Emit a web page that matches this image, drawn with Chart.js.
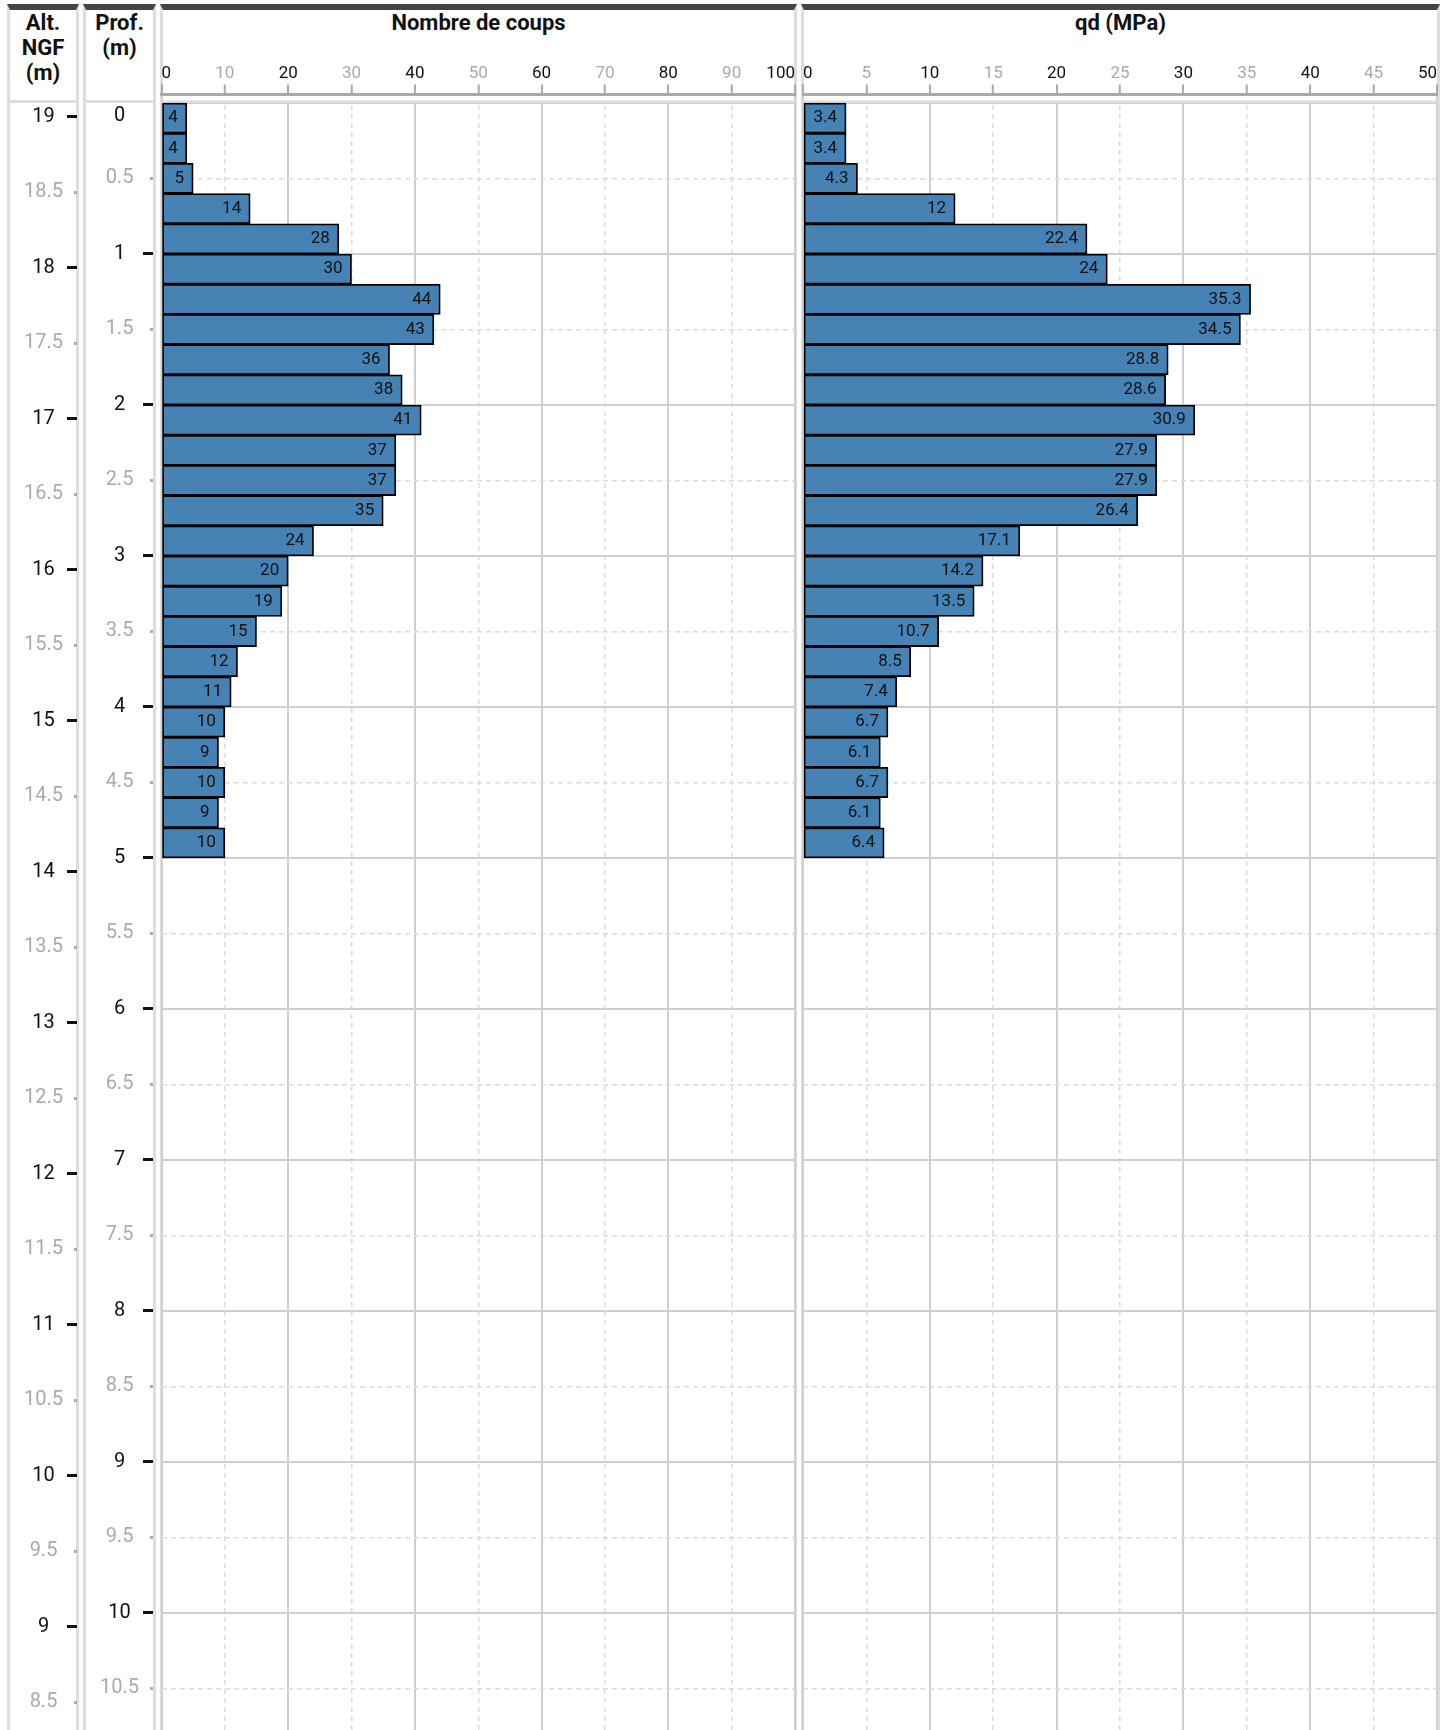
<!DOCTYPE html>
<html>
<head>
<meta charset="utf-8">
<title>Pénétromètre</title>
<script src="https://cdn.jsdelivr.net/npm/chart.js@4.4.1/dist/chart.umd.min.js"></script>
<style>
  html, body { margin: 0; padding: 0; background: #fff; overflow: hidden; }
  body { position: relative; width: 1447px; height: 1730px; font-family: Roboto, sans-serif; }
  .panel {
    position: absolute; top: 4px; height: 1740px; box-sizing: border-box;
    border-left: 3px solid #ddd; border-right: 3px solid #ddd; border-top: 6px solid #444;
  }
  .sep { position: absolute; left: 0; right: 0; top: 90px; height: 3px; background: #ddd; }
  .head {
    position: absolute; left: 0; right: 0; top: 0px; text-align: center;
    font-weight: 700; font-size: 22px; line-height: 25px; color: #111;
  }
  canvas { position: absolute; }
</style>
</head>
<body>
  <div class="panel" style="left:7px;width:72px"><div class="head">Alt.<br>NGF<br>(m)</div><div class="sep"></div></div>
  <div class="panel" style="left:83px;width:73px"><div class="head">Prof.<br>(m)</div><div class="sep"></div></div>
  <div class="panel" style="left:160px;width:637px"><div class="head">Nombre de coups</div></div>
  <div class="panel" style="left:801px;width:639px"><div class="head">qd (MPa)</div></div>

  <canvas id="alt" width="68" height="1627" style="left:10px;top:103px"></canvas>
  <canvas id="prof" width="68" height="1627" style="left:86px;top:103px"></canvas>
  <canvas id="coups" width="637" height="1690" style="left:160px;top:40px"></canvas>
  <canvas id="qd" width="639" height="1690" style="left:801px;top:40px"></canvas>

<script>
// depth of the middle of each 0.2 m step (m)
const depthMid = [0.1, 0.3, 0.5, 0.7, 0.9, 1.1, 1.3, 1.5, 1.7, 1.9, 2.1, 2.3, 2.5,
                  2.7, 2.9, 3.1, 3.3, 3.5, 3.7, 3.9, 4.1, 4.3, 4.5, 4.7, 4.9];
// blow count per step
const coups = [4, 4, 5, 14, 28, 30, 44, 43, 36, 38, 41, 37, 37, 35, 24, 20, 19, 15, 12, 11, 10, 9, 10, 9, 10];
// dynamic resistance qd (MPa)
const qd = [3.4, 3.4, 4.3, 12, 22.4, 24, 35.3, 34.5, 28.8, 28.6, 30.9, 27.9, 27.9, 26.4,
            17.1, 14.2, 13.5, 10.7, 8.5, 7.4, 6.7, 6.1, 6.7, 6.1, 6.4];

const altTop = 19.09;     // altitude NGF at depth 0
const depthMax = 10.775;  // depth at the bottom of the page
const depthMin = -0.056;  // small gap between x axis and depth 0

Chart.defaults.font.family = 'Roboto, sans-serif';
Chart.defaults.animation = false;
Chart.defaults.plugins.legend.display = false;
Chart.defaults.plugins.tooltip.enabled = false;

const isInt = v => Math.abs(v - Math.round(v)) < 1e-6;

// first label of the depth axis sits just below the top edge
const zeroLabel = {
  id: 'zeroLabel',
  afterDraw(chart) {
    const s = chart.scales.y, ctx = chart.ctx;
    ctx.save();
    ctx.font = '20px Roboto, sans-serif';
    const w = ctx.measureText('10.5').width;
    ctx.fillStyle = '#111';
    ctx.textAlign = 'center';
    ctx.textBaseline = 'middle';
    ctx.fillText('0', s.right - 14 - w / 2, s.getPixelForValue(0) + 13);
    ctx.restore();
  }
};

function depthAxis(id, min, max, reverse, hideZero) {
  const hidden = v => hideZero && v === 0;
  return new Chart(document.getElementById(id), {
    type: 'scatter',
    data: { datasets: [] },
    options: {
      responsive: false,
      devicePixelRatio: 1,
      layout: { padding: 0 },
      scales: {
        x: { type: 'linear', display: false },
        y: {
          type: 'linear', position: 'left', min: min, max: max, reverse: reverse,
          border: { display: false },
          grid: {
            drawOnChartArea: false,
            tickLength: 10,
            tickWidth: c => hidden(c.tick.value) ? 0 : 3,
            tickColor: c => isInt(c.tick.value) ? '#111' : '#aaa',
            tickBorderDash: c => isInt(c.tick.value) ? [] : [3, 7],
            tickBorderDashOffset: c => isInt(c.tick.value) ? 0 : 3
          },
          ticks: {
            stepSize: 0.5, includeBounds: false, autoSkip: false,
            crossAlign: 'center', padding: 4,
            font: { size: 20 },
            color: c => isInt(c.tick.value) ? '#111' : '#aaa',
            callback: v => hidden(v) ? '' : String(v)
          },
          afterFit: s => { s.width = s.chart.width - 1; s.paddingTop = 0; s.paddingBottom = 0; }
        }
      }
    },
    plugins: hideZero ? [zeroLabel] : []
  });
}

// white strip + separator between x axis and depth 0
const headerGap = {
  id: 'headerGap',
  beforeDatasetsDraw(chart) {
    const ctx = chart.ctx, area = chart.chartArea;
    const y0 = chart.scales.y.getPixelForValue(0);
    ctx.save();
    ctx.fillStyle = '#fff';
    ctx.fillRect(area.left + 1.5, area.top + 1.5, area.width - 3, y0 - area.top - 1.5);
    ctx.fillStyle = '#ddd';
    ctx.fillRect(0, y0 - 2.5, chart.width, 2.5);
    ctx.restore();
  }
};

const barValues = {
  id: 'barValues',
  afterDatasetsDraw(chart) {
    const ctx = chart.ctx;
    const pts = chart.data.datasets[0].data;
    ctx.save();
    ctx.font = '17px Roboto, sans-serif';
    ctx.fillStyle = '#111';
    ctx.textAlign = 'right';
    ctx.textBaseline = 'middle';
    chart.getDatasetMeta(0).data.forEach((bar, i) => {
      ctx.fillText(String(pts[i].x), bar.x - 9, bar.y);
    });
    ctx.restore();
  }
};

function profile(id, values, xMax, xStep, majorStep, padLeft, padRight) {
  const major = v => Math.abs(v / majorStep - Math.round(v / majorStep)) < 1e-6;
  return new Chart(document.getElementById(id), {
    type: 'bar',
    data: {
      datasets: [{
        data: values.map((v, i) => ({ x: v, y: depthMid[i] })),
        backgroundColor: '#4682b4',
        borderColor: '#000',
        borderWidth: 1.8,
        borderSkipped: false,
        barPercentage: 1,
        categoryPercentage: 1
      }]
    },
    options: {
      indexAxis: 'y',
      responsive: false,
      devicePixelRatio: 1,
      layout: { padding: { left: padLeft, right: padRight, top: 0, bottom: 0 } },
      scales: {
        x: {
          type: 'linear', position: 'top', min: 0, max: xMax,
          border: {
            display: true, color: '#aaa', width: 3,
            dash: c => (c.tick && !major(c.tick.value)) ? [5, 4] : []
          },
          grid: {
            color: c => major(c.tick.value) ? '#cfcfcf' : '#dcdcdc',
            lineWidth: c => major(c.tick.value) ? 2 : 1.5,
            tickLength: 10, tickColor: '#aaa', tickWidth: 2, tickBorderDash: []
          },
          ticks: {
            stepSize: xStep, align: 'inner', padding: 1, maxRotation: 0, autoSkip: false,
            font: { size: 17 },
            color: c => major(c.tick.value) ? '#111' : '#aaa',
            callback: v => String(v)
          },
          afterFit: s => { s.height = 54.5; }
        },
        y: {
          type: 'linear', min: depthMin, max: depthMax, reverse: true, offset: false,
          border: {
            display: false,
            dash: c => (c.tick && !isInt(c.tick.value)) ? [5, 4] : []
          },
          grid: {
            offset: false, drawTicks: false,
            color: c => isInt(c.tick.value) ? '#cfcfcf' : '#dcdcdc',
            lineWidth: c => isInt(c.tick.value) ? 2 : 1.5
          },
          ticks: { display: false, stepSize: 0.5, includeBounds: false }
        }
      }
    },
    plugins: [headerGap, barValues]
  });
}

depthAxis('alt', altTop - depthMax, altTop, false, false);
depthAxis('prof', 0, depthMax, true, true);
profile('coups', coups, 100, 10, 20, 1.5, 2);
profile('qd', qd, 50, 5, 10, 2, 3);
</script>
</body>
</html>
